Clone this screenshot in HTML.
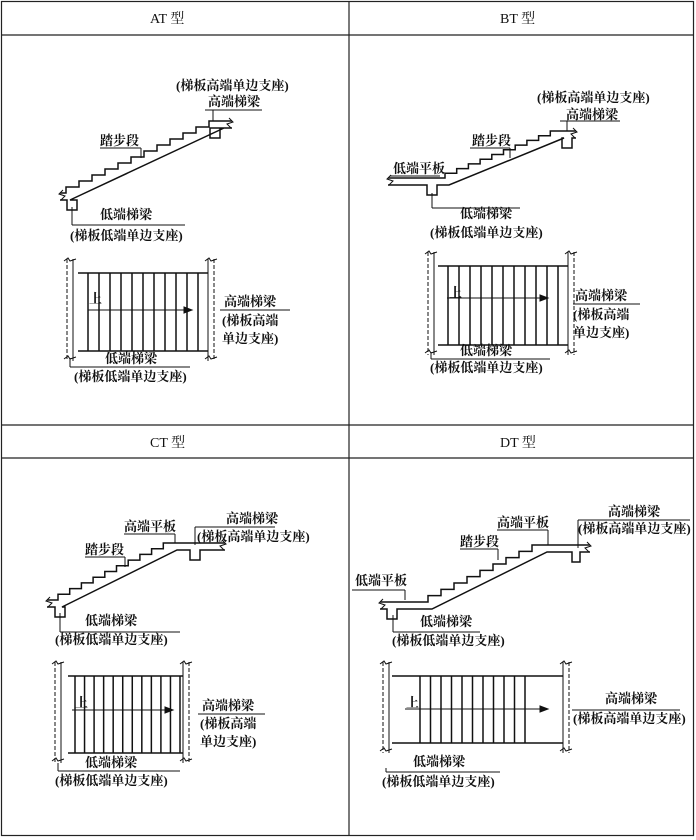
<!DOCTYPE html>
<html><head><meta charset="utf-8"><style>
html,body{margin:0;padding:0;background:#fff;}
svg{display:block;}
text{font-family:"Liberation Serif","Noto Serif CJK SC",serif;font-size:13px;fill:#111;font-weight:bold;}
.h{font-size:14px;font-weight:normal;}
</style></head><body>
<svg id="s" width="696" height="840" viewBox="0 0 696 840" xmlns="http://www.w3.org/2000/svg">
<g fill="none" stroke="#222" stroke-width="1.2">
<rect x="1.5" y="1.5" width="692" height="834"/>
<line x1="349" y1="1" x2="349" y2="836"/>
<line x1="1" y1="35" x2="694" y2="35"/>
<line x1="1" y1="425" x2="694" y2="425"/>
<line x1="1" y1="458" x2="694" y2="458"/>
</g>
<text class="h" x="150" y="23">AT 型</text>
<text class="h" x="500" y="23">BT 型</text>
<text class="h" x="150" y="447">CT 型</text>
<text class="h" x="500" y="447">DT 型</text>
<g id="g" fill="none" stroke="#111" stroke-width="1.5"></g>

<!-- AT labels -->
<text x="176" y="90">(梯板高端单边支座)</text>
<text x="208" y="106">高端梯梁</text>
<text x="100" y="145">踏步段</text>
<text x="100" y="219">低端梯梁</text>
<text x="70" y="240">(梯板低端单边支座)</text>
<text x="89" y="303">上</text>
<text x="224" y="306">高端梯梁</text>
<text x="222" y="325">(梯板高端</text>
<text x="222" y="343">单边支座)</text>
<text x="105" y="363">低端梯梁</text>
<text x="74" y="381">(梯板低端单边支座)</text>

<!-- BT labels -->
<text x="537" y="102">(梯板高端单边支座)</text>
<text x="566" y="119">高端梯梁</text>
<text x="472" y="145">踏步段</text>
<text x="393" y="173">低端平板</text>
<text x="460" y="218">低端梯梁</text>
<text x="430" y="237">(梯板低端单边支座)</text>
<text x="449" y="297">上</text>
<text x="575" y="300">高端梯梁</text>
<text x="573" y="319">(梯板高端</text>
<text x="573" y="337">单边支座)</text>
<text x="460" y="355">低端梯梁</text>
<text x="430" y="372">(梯板低端单边支座)</text>

<!-- CT labels -->
<text x="124" y="531">高端平板</text>
<text x="226" y="523">高端梯梁</text>
<text x="197" y="541">(梯板高端单边支座)</text>
<text x="85" y="554">踏步段</text>
<text x="85" y="625">低端梯梁</text>
<text x="55" y="644">(梯板低端单边支座)</text>
<text x="75" y="707">上</text>
<text x="202" y="710">高端梯梁</text>
<text x="200" y="728">(梯板高端</text>
<text x="200" y="746">单边支座)</text>
<text x="85" y="767">低端梯梁</text>
<text x="55" y="785">(梯板低端单边支座)</text>

<!-- DT labels -->
<text x="355" y="585">低端平板</text>
<text x="460" y="546">踏步段</text>
<text x="497" y="527">高端平板</text>
<text x="608" y="516">高端梯梁</text>
<text x="578" y="533">(梯板高端单边支座)</text>
<text x="420" y="626">低端梯梁</text>
<text x="392" y="645">(梯板低端单边支座)</text>
<text x="406" y="707">上</text>
<text x="605" y="703">高端梯梁</text>
<text x="573" y="723">(梯板高端单边支座)</text>
<text x="413" y="766">低端梯梁</text>
<text x="382" y="786">(梯板低端单边支座)</text>
</svg>
<script>
var g=document.getElementById('g'),o='';
function L(a,b,c,d,ex){o+='<line x1="'+a+'" y1="'+b+'" x2="'+c+'" y2="'+d+'" '+(ex||'')+'/>';}
function P(d,ex){o+='<path d="'+d+'" '+(ex||'')+'/>';}
var thin='stroke-width="1"';
function stair(lx,x0,y0,x1,y1,rx,n,lb,hb){
 var dx=(x1-x0)/n,dy=(y1-y0)/n,d='M'+lx+' '+y0+' L'+x0+' '+y0;
 var x=x0,y=y0;
 for(var i=0;i<n;i++){y+=dy;d+=' L'+x+' '+y;x+=dx;d+=' L'+x+' '+y;}
 d+=' L'+rx+' '+y1;P(d);
 var t=7;
 P('M'+lx+' '+(y0+t)+' L'+lb[0]+' '+(y0+t)+' L'+lb[0]+' '+(y0+t+10)+' L'+lb[1]+' '+(y0+t+10)+' L'+lb[1]+' '+(y0+t)+' L'+(x0+4)+' '+(y0+t)+' L'+(x1+2)+' '+(y1+t)+' L'+hb[0]+' '+(y1+t)+' L'+hb[0]+' '+(y1+t+10)+' L'+hb[1]+' '+(y1+t+10)+' L'+hb[1]+' '+(y1+t)+' L'+rx+' '+(y1+t));
 P('M'+(lx+3)+' '+(y0-3)+' l-4 4 l6 2 l-4 4',thin);
 P('M'+(rx-3)+' '+(y1-3)+' l4 4 l-6 2 l4 4',thin);
}
function plan(ld,rd,top,bot,x0,x1,n,ay,ax0,ax1,full){
 var ex='stroke-dasharray="4,2" '+thin;
 L(ld,top-14,ld,bot+10,ex);L(ld+6,top-14,ld+6,bot+10,thin);
 L(rd,top-14,rd,bot+10,thin);L(rd+6,top-14,rd+6,bot+10,ex);
 P('M'+(ld-3)+' '+(top-12)+' l4 -3 l2 3 l6 -2',thin);P('M'+(ld-3)+' '+(bot+8)+' l4 -3 l2 3 l6 -2',thin);
 P('M'+(rd-3)+' '+(top-12)+' l4 -3 l2 3 l6 -2',thin);P('M'+(rd-3)+' '+(bot+8)+' l4 -3 l2 3 l6 -2',thin);
 L(full[0],top,full[1],top);L(full[0],bot,full[1],bot);
 var dx=(x1-x0)/(n-1);for(var i=0;i<n;i++)L(x0+i*dx,top,x0+i*dx,bot);
 L(ax0,ay,ax1,ay,thin);P('M'+ax1+' '+(ay-3)+' l8 3 l-8 3z','fill="#111" '+thin);
}
// AT
stair(60,66,193,222,121,232,12,[67,77],[210,220]);
L(72,207,72,225,thin);L(72,225,185,225,thin);
L(205,110,262,110,thin);L(213,110,213,121,thin);
L(100,148,141,148,thin);L(141,148,141,158,thin);
plan(67,208,273,351,88,198,11,310,88,184,[78,208]);
L(70,358,70,367,thin);L(70,367,190,367,thin);
L(220,310,290,310,thin);
// BT
stair(388,445,178,562,131,576,10,[427,437],[562,572]);
L(390,176,440,176,thin);
L(432,193,432,208,thin);L(432,208,520,208,thin);
L(560,121,620,121,thin);L(567,121,567,131,thin);
L(470,148,510,148,thin);L(510,148,510,158,thin);
plan(428,568,266,345,448,558,11,298,447,540,[438,568]);
L(431,352,431,359,thin);L(431,359,550,359,thin);
L(573,304,640,304,thin);
// CT
stair(47,58,600,175,543,225,10,[55,65],[190,200]);
L(60,613,60,632,thin);L(60,632,180,632,thin);
L(124,534,175,534,thin);L(175,534,175,543,thin);
L(195,527,275,527,thin);L(195,527,195,545,thin);
L(85,557,125,557,thin);L(125,557,125,567,thin);
plan(55,183,676,753,75,180,12,710,72,165,[68,183]);
L(58,763,58,771,thin);L(58,771,180,771,thin);
L(198,714,265,714,thin);
// DT
stair(380,428,602,545,545,590,9,[387,397],[572,580]);
L(352,590,405,590,thin);L(405,590,405,600,thin);
L(393,615,393,632,thin);L(393,632,480,632,thin);
L(497,530,548,530,thin);L(548,530,548,545,thin);
L(460,549,498,549,thin);L(498,549,498,560,thin);
L(578,520,690,520,thin);L(578,520,578,548,thin);
plan(383,563,676,743,420,525,11,709,405,540,[392,563]);
L(386,768,386,772,thin);L(386,772,500,772,thin);
L(572,710,680,710,thin);
g.innerHTML=o;
</script>
</body></html>
